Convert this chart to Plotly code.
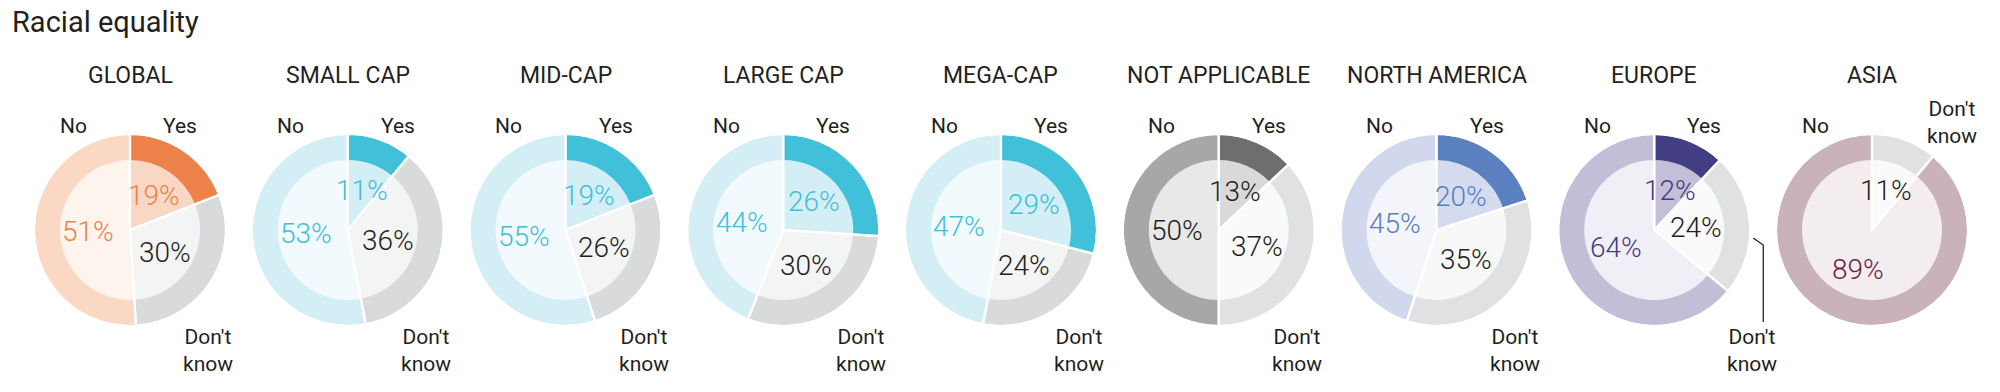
import math
import plotly.graph_objects as go

# ---------------- data ----------------
chart_title = "Racial equality"
groups = ["GLOBAL", "SMALL CAP", "MID-CAP", "LARGE CAP", "MEGA-CAP",
          "NOT APPLICABLE", "NORTH AMERICA", "EUROPE", "ASIA"]
answers = ["Yes", "Don't know", "No"]
yes_pct = [19, 11, 19, 26, 29, 13, 20, 12, 0]
dont_know_pct = [30, 36, 26, 30, 24, 37, 35, 24, 11]
no_pct = [51, 53, 55, 44, 47, 50, 45, 64, 89]

# ---------------- styles ----------------
DARK = "#231F20"
palettes = {
    "orange": dict(outer=["#ED814A", "#D9DADC", "#FBD8C3"],
                   inner=["#F8D8C5", "#F3F4F4", "#FDF4EE"],
                   text=["#ED814A", DARK, "#ED814A"]),
    "cyan": dict(outer=["#40C1D9", "#D9DADC", "#D4EEF5"],
                 inner=["#D4EEF5", "#F3F4F4", "#F2FAFD"],
                 text=["#40C1D9", DARK, "#40C1D9"]),
    "gray": dict(outer=["#6D6E70", "#E0E1E2", "#A6A7A9"],
                 inner=["#D9D9DA", "#FAFAFA", "#E8E8E9"],
                 text=[DARK, DARK, DARK]),
    "blue": dict(outer=["#5B80C0", "#E0E1E2", "#D1D8EE"],
                 inner=["#D4DBEE", "#F8F8F8", "#F4F5FA"],
                 text=["#5B80C0", DARK, "#5B80C0"]),
    "purple": dict(outer=["#433D83", "#E0E1E2", "#C3BED8"],
                   inner=["#C4BED8", "#FAFAFA", "#F0EFF5"],
                   text=["#433D83", DARK, "#433D83"]),
    "mauve": dict(outer=["#C9B2BC", "#E0E1E2", "#C9B2BC"],
                  inner=["#F4EDF0", "#FAFAFA", "#F4EDF0"],
                  text=["#6A1D45", DARK, "#6A1D45"]),
}
group_palette = ["orange", "cyan", "cyan", "cyan", "cyan", "gray", "blue", "purple", "mauve"]
dk_label_style = ["below", "below", "below", "below", "below", "below", "below", "leader", "top"]

FONT = "Roboto"
W, H = 2000, 392
X0, STEP = 130, 217.75
CY = 230
R_OUT, R_IN = 95, 70
R_TXT = 42


def px(x):
    return x / W


def py(y):
    return 1 - y / H


fig = go.Figure()
annotations = []
shapes = []

for i, g in enumerate(groups):
    cx = X0 + i * STEP
    vals = [yes_pct[i], dont_know_pct[i], no_pct[i]]
    pal = palettes[group_palette[i]]

    def dom(r):
        return dict(x=[px(cx - r), px(cx + r)], y=[py(CY + r), py(CY - r)])

    common = dict(labels=answers, values=vals, sort=False, direction="clockwise",
                  rotation=0, textinfo="none", hoverinfo="skip", showlegend=False)
    # inner light fill
    fig.add_trace(go.Pie(domain=dom(R_IN + 2), marker=dict(colors=pal["inner"], line=dict(width=0)),
                         **common))
    # outer ring
    fig.add_trace(go.Pie(domain=dom(R_OUT), hole=R_IN / R_OUT,
                         marker=dict(colors=pal["outer"], line=dict(width=0)), **common))
    # white separators
    fig.add_trace(go.Pie(domain=dom(R_OUT + 1),
                         marker=dict(colors=["rgba(0,0,0,0)"] * 3, line=dict(color="white", width=2.2)),
                         **common))

    # group title
    annotations.append(dict(x=px(cx), y=py(75), text=g, showarrow=False, xref="paper", yref="paper",
                            xanchor="center", yanchor="middle", font=dict(family=FONT, size=23, color=DARK)))

    # percentage labels, placed at each slice's mid angle
    cum = 0
    for k, v in enumerate(vals):
        if v > 0:
            mid = (cum + v / 2) / 100 * 2 * math.pi
            tx = cx + R_TXT * math.sin(mid)
            ty = CY - R_TXT * math.cos(mid)
            annotations.append(dict(x=px(tx), y=py(ty), text=f"{v}%", showarrow=False,
                                    xref="paper", yref="paper", xanchor="center", yanchor="middle",
                                    font=dict(family=FONT, size=28, color=pal["text"][k], weight=300)))
        cum += v

    # category labels
    lab_font = dict(family=FONT, size=21, color=DARK)
    annotations.append(dict(x=px(cx - 57), y=py(126), text="No", showarrow=False, xref="paper",
                            yref="paper", xanchor="center", yanchor="middle", font=lab_font))
    if yes_pct[i] > 0:
        annotations.append(dict(x=px(cx + 50), y=py(126), text="Yes", showarrow=False, xref="paper",
                                yref="paper", xanchor="center", yanchor="middle", font=lab_font))
    style = dk_label_style[i]
    if style == "top":
        dkx, dky = cx + 80, 123
    elif style == "leader":
        dkx, dky = cx + 98, 350
        shapes.append(dict(type="path", xref="paper", yref="paper",
                           path=f"M {px(cx + 99)} {py(CY + 8)} L {px(cx + 109)} {py(CY + 15)} L {px(cx + 109)} {py(CY + 92)}",
                           line=dict(color=DARK, width=1.3)))
    else:
        dkx, dky = cx + 78, 350
    annotations.append(dict(x=px(dkx), y=py(dky), text="Don't<br>know", showarrow=False, xref="paper",
                            yref="paper", xanchor="center", yanchor="middle", align="center",
                            font=lab_font))

annotations.append(dict(x=px(10), y=py(22), text=chart_title, showarrow=False, xref="paper", yref="paper",
                        xanchor="left", yanchor="middle", font=dict(family=FONT, size=29, color=DARK)))

fig.update_layout(width=W, height=H, margin=dict(l=0, r=0, t=0, b=0),
                  paper_bgcolor="white", plot_bgcolor="white",
                  annotations=annotations, shapes=shapes, font=dict(family=FONT))

fig.write_html("out.html", config={"displayModeBar": False},
               post_script="document.body.style.margin='0';")
